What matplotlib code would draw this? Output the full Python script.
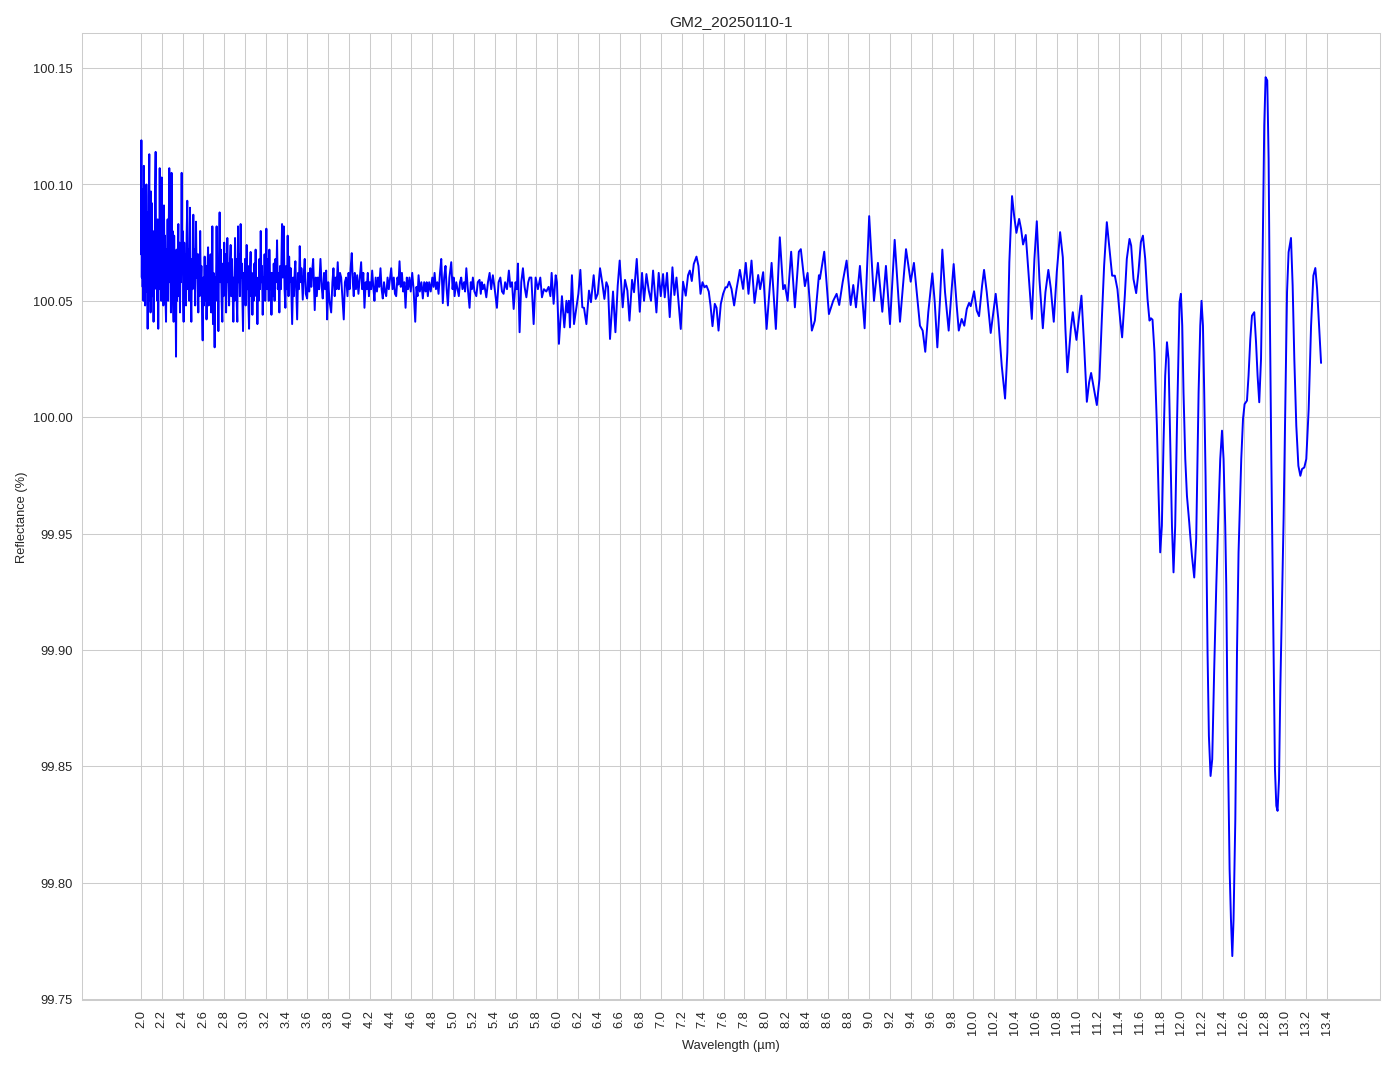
import matplotlib
matplotlib.use("Agg")
import matplotlib.pyplot as plt
import seaborn as sns
import numpy as np

sns.set_style("whitegrid")
plt.rcParams["font.family"] = ["Liberation Sans", "DejaVu Sans"]

# ---- spectrum (wavelength um, reflectance %) ----
noisy_start = [
    (2.000, 100.070), (2.004, 100.119), (2.008, 100.060), (2.012, 100.098), (2.016, 100.056),
    (2.020, 100.095), (2.024, 100.050), (2.028, 100.108), (2.032, 100.062), (2.036, 100.090),
    (2.040, 100.048), (2.044, 100.085), (2.048, 100.054), (2.052, 100.100), (2.056, 100.060),
    (2.060, 100.088), (2.064, 100.038), (2.068, 100.080), (2.072, 100.050), (2.076, 100.095),
    (2.080, 100.113), (2.084, 100.055), (2.088, 100.085), (2.092, 100.045), (2.096, 100.097),
    (2.100, 100.060), (2.104, 100.092), (2.110, 100.052), (2.116, 100.078), (2.121, 100.041),
    (2.126, 100.080), (2.131, 100.055), (2.136, 100.098), (2.141, 100.114), (2.146, 100.060),
    (2.151, 100.082), (2.156, 100.050), (2.161, 100.085), (2.166, 100.038), (2.171, 100.075),
    (2.176, 100.055), (2.180, 100.107), (2.185, 100.062), (2.190, 100.088), (2.195, 100.050),
    (2.200, 100.103), (2.205, 100.058), (2.210, 100.080), (2.215, 100.048), (2.221, 100.091),
    (2.226, 100.060), (2.231, 100.078), (2.236, 100.050), (2.241, 100.041), (2.246, 100.072),
    (2.251, 100.055), (2.256, 100.085), (2.261, 100.050), (2.266, 100.075), (2.272, 100.107),
    (2.277, 100.058), (2.282, 100.082), (2.288, 100.045), (2.294, 100.105), (2.299, 100.060),
    (2.304, 100.080), (2.309, 100.050), (2.314, 100.041), (2.319, 100.078), (2.324, 100.055),
    (2.329, 100.070), (2.337, 100.026), (2.342, 100.072), (2.347, 100.050), (2.353, 100.068),
    (2.359, 100.083), (2.364, 100.052), (2.369, 100.075), (2.375, 100.045), (2.380, 100.070),
    (2.385, 100.058), (2.391, 100.105), (2.396, 100.062), (2.401, 100.080), (2.406, 100.050),
    (2.410, 100.041), (2.416, 100.075), (2.421, 100.055), (2.427, 100.070), (2.433, 100.048),
    (2.439, 100.078), (2.445, 100.093), (2.451, 100.055), (2.457, 100.072), (2.463, 100.050),
    (2.471, 100.090), (2.477, 100.056), (2.484, 100.041), (2.490, 100.068), (2.496, 100.055),
    (2.503, 100.087), (2.509, 100.058), (2.515, 100.072), (2.521, 100.048), (2.529, 100.084),
    (2.535, 100.060), (2.541, 100.070), (2.551, 100.045),
]

noisy_mid = [
    (2.557, 100.070), (2.563, 100.052), (2.569, 100.080), (2.575, 100.055), (2.581, 100.065),
    (2.587, 100.045), (2.593, 100.033), (2.599, 100.060), (2.605, 100.048), (2.612, 100.069),
    (2.618, 100.050), (2.624, 100.065), (2.630, 100.042), (2.637, 100.060), (2.645, 100.073),
    (2.651, 100.048), (2.657, 100.066), (2.663, 100.052), (2.669, 100.070), (2.675, 100.045),
    (2.681, 100.060), (2.686, 100.082), (2.692, 100.040), (2.698, 100.062), (2.703, 100.048),
    (2.708, 100.030), (2.714, 100.060), (2.720, 100.050), (2.727, 100.082), (2.733, 100.055),
    (2.738, 100.068), (2.744, 100.037), (2.750, 100.070), (2.756, 100.088), (2.762, 100.058),
    (2.768, 100.072), (2.775, 100.050), (2.782, 100.041), (2.788, 100.066), (2.794, 100.052),
    (2.800, 100.075), (2.806, 100.055), (2.812, 100.070), (2.818, 100.045), (2.824, 100.062),
    (2.830, 100.077), (2.836, 100.058), (2.841, 100.066), (2.847, 100.048), (2.854, 100.065),
    (2.862, 100.074), (2.868, 100.052), (2.874, 100.068), (2.881, 100.055), (2.888, 100.041),
    (2.894, 100.060), (2.899, 100.050), (2.904, 100.077), (2.910, 100.055), (2.916, 100.068),
    (2.921, 100.048), (2.926, 100.041), (2.933, 100.082), (2.939, 100.058), (2.945, 100.070),
    (2.951, 100.052), (2.958, 100.083), (2.964, 100.060), (2.970, 100.066), (2.975, 100.050),
    (2.981, 100.037), (2.987, 100.062), (2.993, 100.052), (3.000, 100.068), (3.006, 100.048),
    (3.011, 100.060), (3.016, 100.074), (3.022, 100.055), (3.028, 100.065), (3.033, 100.048),
    (3.039, 100.038), (3.045, 100.060), (3.054, 100.071), (3.060, 100.052), (3.066, 100.062),
    (3.071, 100.044), (3.077, 100.060), (3.083, 100.050), (3.090, 100.066), (3.096, 100.055),
    (3.102, 100.072), (3.108, 100.052), (3.113, 100.060), (3.119, 100.040), (3.125, 100.058),
    (3.131, 100.050), (3.138, 100.068), (3.144, 100.055), (3.151, 100.080), (3.157, 100.058),
    (3.163, 100.065), (3.170, 100.044), (3.176, 100.060), (3.182, 100.052), (3.188, 100.070),
    (3.194, 100.050), (3.200, 100.062), (3.205, 100.081),
]

noisy_tail = [
    (3.212, 100.055), (3.220, 100.068), (3.228, 100.050), (3.234, 100.072), (3.242, 100.055),
    (3.248, 100.062), (3.254, 100.044), (3.262, 100.062), (3.269, 100.052), (3.276, 100.066),
    (3.284, 100.050), (3.292, 100.068), (3.300, 100.058), (3.308, 100.076), (3.315, 100.055),
    (3.322, 100.062), (3.330, 100.045), (3.338, 100.065), (3.345, 100.055), (3.356, 100.083),
    (3.363, 100.060), (3.372, 100.082), (3.380, 100.055), (3.388, 100.047), (3.396, 100.065),
    (3.403, 100.055), (3.410, 100.078), (3.418, 100.052), (3.424, 100.069), (3.430, 100.058),
    (3.440, 100.064), (3.453, 100.040), (3.462, 100.060), (3.470, 100.052), (3.478, 100.063),
    (3.484, 100.067), (3.492, 100.055), (3.501, 100.042), (3.510, 100.062), (3.518, 100.055),
    (3.526, 100.0735), (3.534, 100.058), (3.542, 100.064), (3.555, 100.0505), (3.565, 100.062),
    (3.574, 100.068), (3.584, 100.053), (3.597, 100.051), (3.607, 100.062), (3.617, 100.054),
    (3.627, 100.064), (3.637, 100.056), (3.646, 100.063), (3.655, 100.068), (3.670, 100.046),
    (3.680, 100.060), (3.690, 100.052), (3.700, 100.060), (3.712, 100.055), (3.725, 100.068),
    (3.737, 100.056), (3.747, 100.051), (3.760, 100.062), (3.770, 100.055), (3.780, 100.063),
    (3.789, 100.042), (3.800, 100.058), (3.812, 100.050), (3.828, 100.045), (3.840, 100.058),
    (3.850, 100.064), (3.862, 100.052), (3.872, 100.060), (3.880, 100.055), (3.891, 100.0666),
    (3.902, 100.055), (3.913, 100.062), (3.924, 100.060), (3.935, 100.052), (3.949, 100.042),
    (3.960, 100.058), (3.972, 100.060), (3.985, 100.052), (3.995, 100.062), (4.005, 100.055),
    (4.015, 100.064), (4.026, 100.0705), (4.036, 100.058), (4.045, 100.052), (4.055, 100.062),
    (4.066, 100.055), (4.078, 100.061), (4.090, 100.053), (4.103, 100.060), (4.116, 100.0666),
    (4.126, 100.055), (4.137, 100.062), (4.148, 100.047), (4.160, 100.058), (4.170, 100.055),
    (4.180, 100.062), (4.191, 100.052), (4.200, 100.058), (4.212, 100.055), (4.222, 100.063),
    (4.233, 100.056), (4.244, 100.050), (4.256, 100.060), (4.268, 100.054), (4.280, 100.060),
    (4.290, 100.056), (4.302, 100.064), (4.313, 100.055), (4.324, 100.051), (4.336, 100.058),
    (4.346, 100.054), (4.357, 100.052), (4.370, 100.060), (4.382, 100.055), (4.395, 100.060),
    (4.405, 100.064), (4.418, 100.055), (4.430, 100.060), (4.441, 100.053), (4.453, 100.052),
    (4.465, 100.060), (4.475, 100.057), (4.485, 100.067), (4.497, 100.056), (4.508, 100.062),
    (4.520, 100.054), (4.531, 100.058), (4.543, 100.047), (4.555, 100.060), (4.567, 100.055),
    (4.580, 100.060), (4.593, 100.054), (4.607, 100.062), (4.620, 100.055), (4.636, 100.041),
    (4.648, 100.056), (4.658, 100.052), (4.668, 100.061), (4.680, 100.054), (4.695, 100.058),
    (4.709, 100.051), (4.722, 100.058), (4.735, 100.054), (4.746, 100.058), (4.757, 100.052),
    (4.770, 100.058), (4.785, 100.054), (4.800, 100.060), (4.812, 100.056), (4.822, 100.062),
    (4.835, 100.055), (4.848, 100.058), (4.860, 100.053), (4.874, 100.062), (4.886, 100.068),
    (4.901, 100.049), (4.914, 100.060), (4.927, 100.065), (4.938, 100.055), (4.950, 100.048),
    (4.964, 100.060), (4.982, 100.0666), (4.995, 100.055), (5.005, 100.060), (5.014, 100.052),
    (5.030, 100.058), (5.042, 100.055), (5.055, 100.052), (5.066, 100.058), (5.078, 100.060),
    (5.090, 100.055), (5.105, 100.058), (5.115, 100.054), (5.127, 100.064), (5.140, 100.056),
    (5.158, 100.047), (5.170, 100.058), (5.180, 100.055), (5.190, 100.060), (5.205, 100.054),
    (5.223, 100.052), (5.237, 100.058), (5.254, 100.059), (5.266, 100.053), (5.276, 100.058),
    (5.286, 100.055), (5.300, 100.057), (5.319, 100.0515), (5.335, 100.058), (5.351, 100.062),
    (5.366, 100.055), (5.382, 100.061), (5.400, 100.055), (5.421, 100.047), (5.437, 100.058),
    (5.454, 100.060), (5.470, 100.054), (5.485, 100.053), (5.500, 100.058), (5.518, 100.055),
    (5.536, 100.063), (5.550, 100.056), (5.566, 100.058), (5.582, 100.0465), (5.600, 100.058),
    (5.612, 100.055), (5.623, 100.066), (5.639, 100.0365), (5.655, 100.058), (5.671, 100.064),
    (5.687, 100.056), (5.704, 100.0515), (5.722, 100.058),
]

fringes = [
    (5.735, 100.060), (5.752, 100.060), (5.774, 100.040), (5.793, 100.060), (5.815, 100.055),
    (5.838, 100.060), (5.854, 100.0515), (5.873, 100.055), (5.896, 100.054), (5.918, 100.056),
    (5.935, 100.052), (5.947, 100.062), (5.966, 100.0487), (5.986, 100.061), (5.998, 100.058),
    (6.017, 100.0315), (6.046, 100.052), (6.069, 100.0386), (6.089, 100.050), (6.101, 100.045),
    (6.113, 100.050), (6.123, 100.0386), (6.142, 100.061), (6.162, 100.040), (6.185, 100.0472),
    (6.204, 100.053), (6.223, 100.0633), (6.242, 100.0472), (6.258, 100.047), (6.281, 100.040),
    (6.306, 100.0544), (6.325, 100.0494), (6.351, 100.061), (6.370, 100.0508), (6.390, 100.053),
    (6.412, 100.064), (6.435, 100.0573), (6.454, 100.0508), (6.473, 100.058), (6.489, 100.056),
    (6.508, 100.0336), (6.537, 100.054), (6.560, 100.0365), (6.582, 100.0565), (6.601, 100.0673),
    (6.630, 100.0472), (6.652, 100.059), (6.675, 100.0544), (6.695, 100.0415), (6.720, 100.059),
    (6.739, 100.0537), (6.765, 100.068), (6.794, 100.0453), (6.816, 100.062), (6.835, 100.050),
    (6.858, 100.0615), (6.880, 100.0545), (6.902, 100.050), (6.922, 100.063), (6.954, 100.045),
    (6.976, 100.062), (6.996, 100.052), (7.018, 100.0615), (7.034, 100.0515), (7.056, 100.062),
    (7.082, 100.043), (7.108, 100.0644), (7.127, 100.0525), (7.147, 100.060), (7.169, 100.048),
    (7.188, 100.0379), (7.210, 100.0582), (7.236, 100.0522), (7.258, 100.061), (7.275, 100.063),
    (7.294, 100.0585), (7.313, 100.0658), (7.339, 100.069), (7.358, 100.065), (7.378, 100.053),
    (7.397, 100.058), (7.416, 100.0558), (7.435, 100.0565), (7.457, 100.054), (7.474, 100.048),
    (7.493, 100.0391), (7.515, 100.0487), (7.532, 100.047), (7.551, 100.0372), (7.573, 100.0487),
    (7.595, 100.053), (7.618, 100.0558), (7.633, 100.0558), (7.653, 100.0582), (7.676, 100.0551),
    (7.701, 100.048), (7.724, 100.055), (7.756, 100.0633), (7.787, 100.0551), (7.813, 100.0663),
    (7.839, 100.053), (7.868, 100.0673), (7.897, 100.0491), (7.932, 100.0611), (7.951, 100.055),
    (7.980, 100.0623), (8.013, 100.0379), (8.061, 100.0663), (8.102, 100.0379), (8.140, 100.0773),
    (8.172, 100.055), (8.189, 100.0568), (8.215, 100.050), (8.249, 100.0711), (8.285, 100.0472),
    (8.323, 100.0711), (8.342, 100.0722), (8.381, 100.0563), (8.407, 100.062), (8.448, 100.0372),
    (8.477, 100.0415), (8.516, 100.061), (8.525, 100.0594), (8.567, 100.0711), (8.612, 100.0443),
    (8.653, 100.050), (8.686, 100.053), (8.711, 100.0482), (8.744, 100.058), (8.782, 100.0673),
    (8.821, 100.0482), (8.846, 100.0568), (8.872, 100.0472), (8.910, 100.065), (8.955, 100.0382),
    (8.999, 100.0864), (9.045, 100.050), (9.083, 100.0663), (9.125, 100.0453), (9.160, 100.065),
    (9.199, 100.040), (9.244, 100.0762), (9.295, 100.041), (9.353, 100.0722), (9.398, 100.0582),
    (9.429, 100.0663), (9.487, 100.0393), (9.513, 100.0372), (9.538, 100.0281), (9.567, 100.0451),
    (9.606, 100.0618), (9.629, 100.0494), (9.654, 100.030), (9.680, 100.0508), (9.702, 100.072),
    (9.728, 100.0537), (9.763, 100.0372), (9.792, 100.0551), (9.811, 100.0658), (9.840, 100.048),
    (9.860, 100.0372), (9.888, 100.0422), (9.913, 100.0393), (9.937, 100.0465), (9.959, 100.0491),
    (9.975, 100.0477), (10.007, 100.0541), (10.033, 100.0458), (10.055, 100.0434), (10.084, 100.0565),
    (10.103, 100.0633), (10.129, 100.0537), (10.167, 100.0362), (10.192, 100.0451), (10.215, 100.053),
    (10.240, 100.0422), (10.273, 100.0221), (10.305, 100.008), (10.327, 100.0279), (10.346, 100.0666),
    (10.372, 100.095), (10.392, 100.0866), (10.414, 100.0792), (10.440, 100.0852), (10.459, 100.0809),
    (10.478, 100.0742), (10.504, 100.0783), (10.523, 100.0666), (10.562, 100.0422), (10.587, 100.068),
    (10.610, 100.0842), (10.635, 100.0594), (10.668, 100.0382), (10.693, 100.0537), (10.721, 100.0633),
    (10.745, 100.0551), (10.773, 100.041), (10.802, 100.0623), (10.834, 100.0795), (10.860, 100.0687),
    (10.885, 100.0379), (10.904, 100.0193), (10.937, 100.0379), (10.956, 100.0451), (10.972, 100.0393),
    (10.991, 100.0332), (11.017, 100.0436), (11.039, 100.0522), (11.065, 100.0307), (11.091, 100.0066),
    (11.113, 100.015), (11.132, 100.019), (11.154, 100.0135), (11.187, 100.0052), (11.212, 100.0164),
    (11.235, 100.0422), (11.257, 100.0651), (11.283, 100.0838), (11.308, 100.0723), (11.334, 100.0608),
    (11.360, 100.0608), (11.385, 100.055), (11.411, 100.042), (11.430, 100.0343), (11.456, 100.0522),
    (11.475, 100.068), (11.501, 100.0766),
]

deep_bands = [
    (11.517, 100.0737), (11.539, 100.0594), (11.565, 100.0533), (11.587, 100.0623), (11.610, 100.0752),
    (11.630, 100.078), (11.652, 100.068), (11.674, 100.0508), (11.693, 100.0415), (11.707, 100.0425),
    (11.722, 100.0419), (11.741, 100.0279), (11.764, 99.9964), (11.780, 99.9677), (11.796, 99.9419),
    (11.812, 99.9533), (11.828, 99.9892), (11.844, 100.0178), (11.861, 100.0322), (11.876, 100.025),
    (11.892, 99.9892), (11.909, 99.9533), (11.924, 99.9333), (11.940, 99.9533), (11.957, 99.9963),
    (11.972, 100.0293), (11.982, 100.0494), (11.995, 100.053), (12.008, 100.0393), (12.020, 100.0107),
    (12.037, 99.982), (12.053, 99.9662), (12.075, 99.9548), (12.085, 99.949), (12.101, 99.9404),
    (12.123, 99.9311), (12.142, 99.9476), (12.165, 100.0107), (12.181, 100.0393), (12.193, 100.050),
    (12.207, 100.0393), (12.219, 100.0107), (12.232, 99.9748), (12.251, 99.8989), (12.264, 99.863),
    (12.280, 99.8458), (12.296, 99.853), (12.315, 99.8917), (12.335, 99.9275), (12.354, 99.9563),
    (12.373, 99.982), (12.390, 99.9942), (12.405, 99.982), (12.421, 99.9533), (12.431, 99.9275),
    (12.443, 99.8702), (12.463, 99.8057), (12.476, 99.7842), (12.489, 99.7684), (12.501, 99.7842),
    (12.518, 99.8272), (12.534, 99.8989), (12.549, 99.9419), (12.575, 99.982), (12.592, 99.9993),
    (12.607, 100.0056), (12.630, 100.0071), (12.645, 100.0178), (12.662, 100.0336), (12.678, 100.0436),
    (12.700, 100.0451), (12.717, 100.0322), (12.732, 100.0178), (12.748, 100.0064), (12.765, 100.025),
    (12.780, 100.068), (12.796, 100.1253), (12.809, 100.1461), (12.825, 100.1447), (12.838, 100.111),
    (12.851, 100.0393), (12.864, 99.982), (12.886, 99.8989), (12.899, 99.8487), (12.912, 99.833),
    (12.924, 99.8308), (12.938, 99.8444), (12.951, 99.8845), (12.970, 99.9275), (12.982, 99.9563),
    (13.001, 100.0107), (13.015, 100.0537), (13.030, 100.0709), (13.053, 100.077), (13.069, 100.0565),
    (13.085, 100.025), (13.104, 99.9963), (13.124, 99.9791), (13.143, 99.9748), (13.159, 99.9777),
    (13.181, 99.9784), (13.200, 99.982), (13.223, 100.0035), (13.246, 100.0393), (13.268, 100.0608),
    (13.287, 100.0641), (13.304, 100.0551), (13.323, 100.0393), (13.342, 100.0233),
]

x_ticks = [2.0, 2.2, 2.4, 2.6, 2.8, 3.0, 3.2, 3.4, 3.6, 3.8, 4.0, 4.2, 4.4, 4.6, 4.8,
           5.0, 5.2, 5.4, 5.6, 5.8, 6.0, 6.2, 6.4, 6.6, 6.8, 7.0, 7.2, 7.4, 7.6, 7.8,
           8.0, 8.2, 8.4, 8.6, 8.8, 9.0, 9.2, 9.4, 9.6, 9.8, 10.0, 10.2, 10.4, 10.6,
           10.8, 11.0, 11.2, 11.4, 11.6, 11.8, 12.0, 12.2, 12.4, 12.6, 12.8, 13.0,
           13.2, 13.4]

spectrum = np.array(noisy_start + noisy_mid + noisy_tail + fringes + deep_bands)
wavelength, reflectance = spectrum[:, 0], spectrum[:, 1]

# ---- plot ----
fig = plt.figure(figsize=(15, 11.5), dpi=1394 / 15)
ax = fig.add_axes([0.0588, 0.0636, 0.9312, 0.9046])

ax.plot(wavelength, reflectance, color="blue", linewidth=1.5)

ax.set_title("GM2_20250110-1")
ax.set_xlabel("Wavelength (µm)")
ax.set_ylabel("Reflectance (%)")
ax.set_xticks(x_ticks)
ax.set_xticklabels([f"{t:.1f}" for t in x_ticks], rotation=90)
ax.yaxis.set_major_formatter(matplotlib.ticker.FormatStrFormatter("%.2f"))

fig.savefig("out.png", dpi=1394 / 15)
